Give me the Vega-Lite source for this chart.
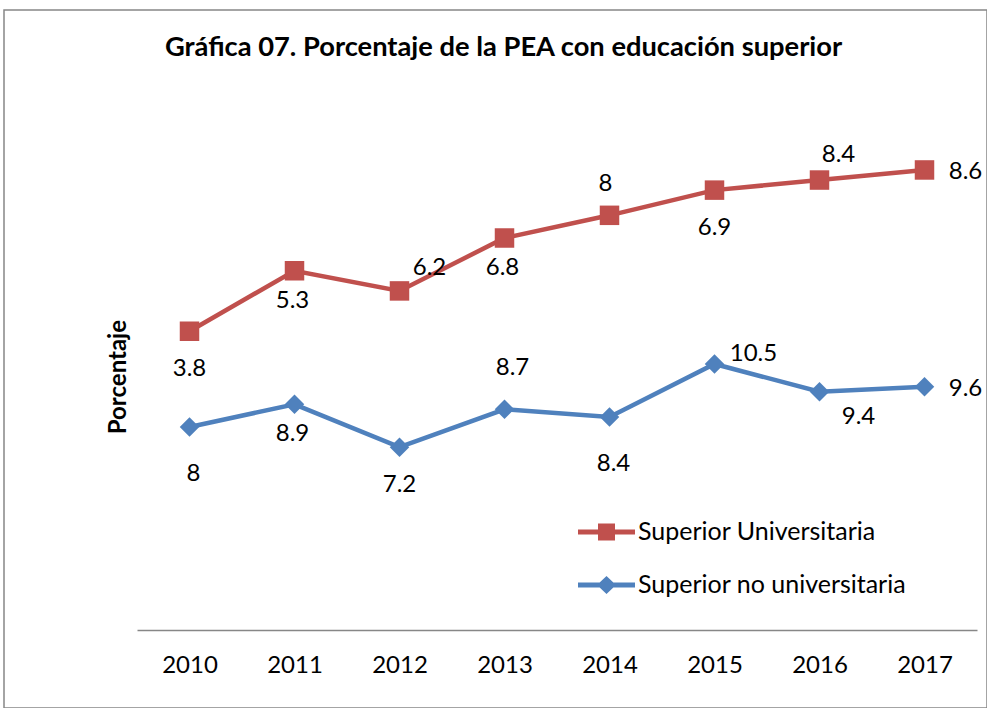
{
  "$schema": "https://vega.github.io/schema/vega-lite/v6.json",
  "width": 983,
  "height": 698,
  "autosize": "none",
  "padding": {"left": 4, "top": 10, "right": 0, "bottom": 0},
  "background": "white",
  "config": {
    "view": {"stroke": "#878787", "strokeWidth": 1.5},
    "font": "Lato"
  },
  "title": {
    "text": "Gráfica 07. Porcentaje de la PEA con educación superior",
    "font": "Lato", "fontSize": 27.3, "fontWeight": "bold", "color": "black",
    "anchor": "middle", "offset": 0, "baseline": "alphabetic", "dy": 73, "dx": 8
  },
  "data": {
    "values": [
      {"year": 2010, "serie": "Superior Universitaria", "valor": 3.8},
      {"year": 2011, "serie": "Superior Universitaria", "valor": 5.3},
      {"year": 2012, "serie": "Superior Universitaria", "valor": 6.2},
      {"year": 2013, "serie": "Superior Universitaria", "valor": 6.8},
      {"year": 2014, "serie": "Superior Universitaria", "valor": 8},
      {"year": 2015, "serie": "Superior Universitaria", "valor": 6.9},
      {"year": 2016, "serie": "Superior Universitaria", "valor": 8.4},
      {"year": 2017, "serie": "Superior Universitaria", "valor": 8.6},
      {"year": 2010, "serie": "Superior no universitaria", "valor": 8},
      {"year": 2011, "serie": "Superior no universitaria", "valor": 8.9},
      {"year": 2012, "serie": "Superior no universitaria", "valor": 7.2},
      {"year": 2013, "serie": "Superior no universitaria", "valor": 8.7},
      {"year": 2014, "serie": "Superior no universitaria", "valor": 8.4},
      {"year": 2015, "serie": "Superior no universitaria", "valor": 10.5},
      {"year": 2016, "serie": "Superior no universitaria", "valor": 9.4},
      {"year": 2017, "serie": "Superior no universitaria", "valor": 9.6}
    ]
  },
  "transform": [
    {"stack": "valor", "groupby": ["year"], "sort": [{"field": "serie", "order": "descending"}], "as": ["y0", "y1"]}
  ],
  "encoding": {
    "x": {
      "field": "year", "type": "ordinal",
      "scale": {"range": [133, 973], "padding": 0.5},
      "axis": {
        "title": null, "labelAngle": 0, "ticks": false, "grid": false,
        "domainColor": "#878787", "domainWidth": 1.5,
        "labelFont": "Lato", "labelFontSize": 24, "labelColor": "black",
        "labelPadding": 23, "offset": -78
      }
    },
    "y": {
      "field": "y1", "type": "quantitative",
      "scale": {"domain": [0, 20], "range": [618.6, 114.6], "nice": false, "zero": true},
      "axis": {
        "title": "Porcentaje", "titleFont": "Lato", "titleFontSize": 24, "titleFontWeight": "bold",
        "titleColor": "black", "domain": false, "ticks": false, "labels": false, "grid": false,
        "offset": -133, "titlePadding": 7
      }
    }
  },
  "layer": [
    {
      "mark": {"type": "line", "strokeWidth": 4.5},
      "encoding": {
        "color": {
          "field": "serie", "type": "nominal",
          "scale": {"domain": ["Superior Universitaria", "Superior no universitaria"], "range": ["#C0504D", "#4F81BD"]},
          "legend": {
            "orient": "none", "legendX": 577.5, "legendY": 497, "title": null, "padding": 0,
            "symbolSize": 2500, "labelFont": "Lato", "labelFontSize": 25, "labelColor": "black",
            "labelOffset": 6.5, "labelLimit": 500, "rowPadding": 15,
            "encode": {
              "symbols": {
                "update": {
                  "shape": {"signal": "datum.value == 'Superior Universitaria' ? 'M-1.14,-0.1L1.14,-0.1L1.14,0.1L-1.14,0.1ZM-0.34,-0.34L0.34,-0.34L0.34,0.34L-0.34,0.34Z' : 'M-1.14,-0.1L1.14,-0.1L1.14,0.1L-1.14,0.1ZM0,-0.36L0.38,0L0,0.36L-0.38,0Z'"},
                  "fill": {"signal": "datum.value == 'Superior Universitaria' ? '#C0504D' : '#4F81BD'"},
                  "stroke": {"value": "transparent"},
                  "strokeWidth": {"value": 0},
                  "opacity": {"value": 1}
                }
              }
            }
          }
        }
      }
    },
    {
      "transform": [{"filter": "datum.serie == 'Superior Universitaria'"}],
      "mark": {"type": "point", "shape": "square", "filled": true, "size": 380, "opacity": 1},
      "encoding": {"color": {"field": "serie", "type": "nominal"}}
    },
    {
      "transform": [{"filter": "datum.serie == 'Superior no universitaria'"}],
      "mark": {"type": "point", "shape": "diamond", "filled": true, "size": 380, "opacity": 1},
      "encoding": {"color": {"field": "serie", "type": "nominal"}}
    },
    {
      "transform": [{"filter": "(datum.serie == 'Superior Universitaria' && indexof([2011, 2013], datum.year) >= 0) || (datum.serie == 'Superior no universitaria' && datum.year == 2011)"}],
      "mark": {"type": "text", "font": "Lato", "fontSize": 24, "color": "black", "dx": -2, "dy": 30},
      "encoding": {"text": {"field": "valor", "type": "quantitative"}}
    },
    {
      "transform": [{"filter": "(datum.serie == 'Superior Universitaria' && indexof([2010, 2015], datum.year) >= 0) || (datum.serie == 'Superior no universitaria' && datum.year == 2012)"}],
      "mark": {"type": "text", "font": "Lato", "fontSize": 24, "color": "black", "dx": 0, "dy": 38},
      "encoding": {"text": {"field": "valor", "type": "quantitative"}}
    },
    {
      "transform": [{"filter": "datum.serie == 'Superior no universitaria' && indexof([2010, 2014], datum.year) >= 0"}],
      "mark": {"type": "text", "font": "Lato", "fontSize": 24, "color": "black", "dx": 4, "dy": 47},
      "encoding": {"text": {"field": "valor", "type": "quantitative"}}
    },
    {
      "transform": [{"filter": "datum.serie == 'Superior Universitaria' && datum.year == 2014"}],
      "mark": {"type": "text", "font": "Lato", "fontSize": 24, "color": "black", "dx": -4, "dy": -31},
      "encoding": {"text": {"field": "valor", "type": "quantitative"}}
    },
    {
      "transform": [{"filter": "datum.serie == 'Superior no universitaria' && datum.year == 2013"}],
      "mark": {"type": "text", "font": "Lato", "fontSize": 24, "color": "black", "dx": 8, "dy": -41},
      "encoding": {"text": {"field": "valor", "type": "quantitative"}}
    },
    {
      "transform": [{"filter": "datum.year == 2017"}],
      "mark": {"type": "text", "font": "Lato", "fontSize": 24, "color": "black", "dx": 41, "dy": 2},
      "encoding": {"text": {"field": "valor", "type": "quantitative"}}
    },
    {
      "transform": [{"filter": "datum.serie == 'Superior Universitaria' && datum.year == 2012"}],
      "mark": {"type": "text", "font": "Lato", "fontSize": 24, "color": "black", "dx": 30, "dy": -23},
      "encoding": {"text": {"field": "valor", "type": "quantitative"}}
    },
    {
      "transform": [{"filter": "datum.serie == 'Superior Universitaria' && datum.year == 2016"}],
      "mark": {"type": "text", "font": "Lato", "fontSize": 24, "color": "black", "dx": 19, "dy": -25},
      "encoding": {"text": {"field": "valor", "type": "quantitative"}}
    },
    {
      "transform": [{"filter": "datum.serie == 'Superior no universitaria' && datum.year == 2015"}],
      "mark": {"type": "text", "font": "Lato", "fontSize": 24, "color": "black", "dx": 39, "dy": -10},
      "encoding": {"text": {"field": "valor", "type": "quantitative"}}
    },
    {
      "transform": [{"filter": "datum.serie == 'Superior no universitaria' && datum.year == 2016"}],
      "mark": {"type": "text", "font": "Lato", "fontSize": 24, "color": "black", "dx": 39, "dy": 25},
      "encoding": {"text": {"field": "valor", "type": "quantitative"}}
    }
  ]
}
